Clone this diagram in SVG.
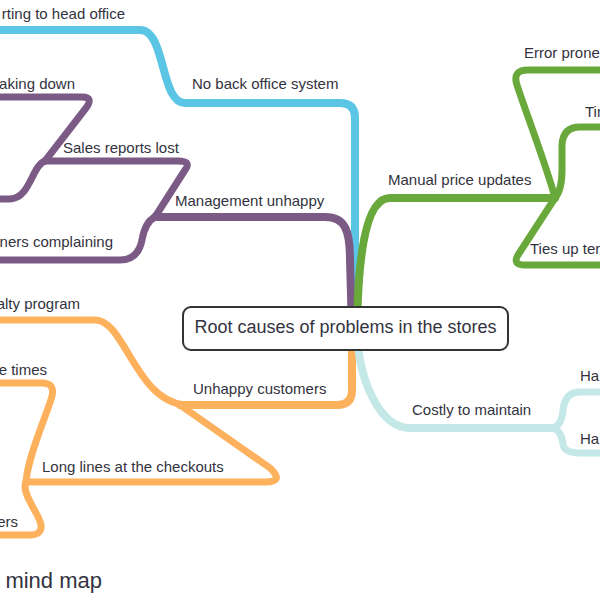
<svg xmlns="http://www.w3.org/2000/svg" width="600" height="600" viewBox="0 0 600 600">
<style>
.l{fill:none;stroke-linecap:round;stroke-linejoin:round}
.m{stroke-width:8}
.s{stroke-width:7}
.b{stroke:#5bc5e5}
.p{stroke:#7b5b86}
.g{stroke:#69a83a}
.o{stroke:#fdb15c}
.c{stroke:#c4e7e8}
text{font-family:"Liberation Sans",Arial,sans-serif;font-size:15px;fill:#333340}
.e{text-anchor:end}
</style>
<rect width="600" height="600" fill="#ffffff"/>
<g id="connectors">
<path class="l m b" d="M355 330 L355 118 Q355 103 340 103 L185 103 C160 103 166 30 140 30 L0 30"/>
<path class="l m p" d="M352 330 L350 260 C350 230 345 217 325 217 L155 217"/>
<path class="l s p" d="M155 217 L185 170 Q192 161 178 161 L45 161"/>
<path class="l s p" d="M155 217 Q145 222 142 240 Q138 260 120 260 L0 260"/>
<path class="l s p" d="M45 161 L86 108 Q94 97 82 97 L0 97"/>
<path class="l s p" d="M45 161 C32 165 30 199 10 199 L0 199"/>
<path class="l m g" d="M357 330 C358 260 365 198 390 198 L555 198"/>
<path class="l s g" d="M555 198 C548 170 525 110 517 85 Q512 70 528 70 L600 70"/>
<path class="l s g" d="M555 198 Q562 190 562 170 L562 145 Q563 127 580 127 L600 127"/>
<path class="l s g" d="M555 198 L518 255 Q512 265 525 265 L600 265"/>
<path class="l m o" d="M352 330 L352 390 Q352 405 337 405 L180 405"/>
<path class="l s o" d="M185 405 C135 400 125 320 95 320 L0 320"/>
<path class="l s o" d="M180 405 L270 468 Q285 482 265 482 L26 482"/>
<path class="l s o" d="M26 482 C28 455 48 412 52 396 Q55 383 42 383 L0 383"/>
<path class="l s o" d="M26 482 C20 492 40 515 41 525 Q42 535 30 535 L0 535"/>
<path class="l m c" d="M357 330 C358 380 380 428 410 428 L553 428"/>
<path class="l s c" d="M553 428 Q562 425 563 410 Q565 392 580 392 L600 392"/>
<path class="l s c" d="M553 428 Q562 431 563 445 Q565 453 580 453 L600 453"/>
</g>
<g id="root">
<rect x="183" y="307" width="325" height="43" rx="8" fill="#ffffff" stroke="#333333" stroke-width="2"/>
<text x="345.5" y="333" text-anchor="middle" style="font-size:18px">Root causes of problems in the stores</text>
</g>
<g id="n-reporting"><text class="e" x="125" y="19">rting to head office</text></g>
<g id="n-nobackoffice"><text x="192" y="89">No back office system</text></g>
<g id="n-breaking"><text class="e" x="75" y="89">aking down</text></g>
<g id="n-salesreports"><text x="63" y="153">Sales reports lost</text></g>
<g id="n-management"><text x="175" y="206">Management unhappy</text></g>
<g id="n-complaining"><text class="e" x="113" y="247">ners complaining</text></g>
<g id="n-manualprice"><text x="388" y="185">Manual price updates</text></g>
<g id="n-errorprone"><text x="524" y="58">Error prone</text></g>
<g id="n-time"><text x="585" y="117">Tim</text></g>
<g id="n-tiesup"><text x="530" y="254">Ties up ter</text></g>
<g id="n-unhappy"><text x="193" y="394">Unhappy customers</text></g>
<g id="n-loyalty"><text class="e" x="80" y="309">alty program</text></g>
<g id="n-times"><text class="e" x="47" y="375">e times</text></g>
<g id="n-longlines"><text x="42" y="472">Long lines at the checkouts</text></g>
<g id="n-ers"><text class="e" x="18" y="527">ers</text></g>
<g id="n-costly"><text x="412" y="415">Costly to maintain</text></g>
<g id="n-ha1"><text x="580" y="381">Ha</text></g>
<g id="n-ha2"><text x="580" y="444">Ha</text></g>
<g id="title"><text class="e" x="102" y="588" style="font-size:22px">mind map</text></g>
</svg>
